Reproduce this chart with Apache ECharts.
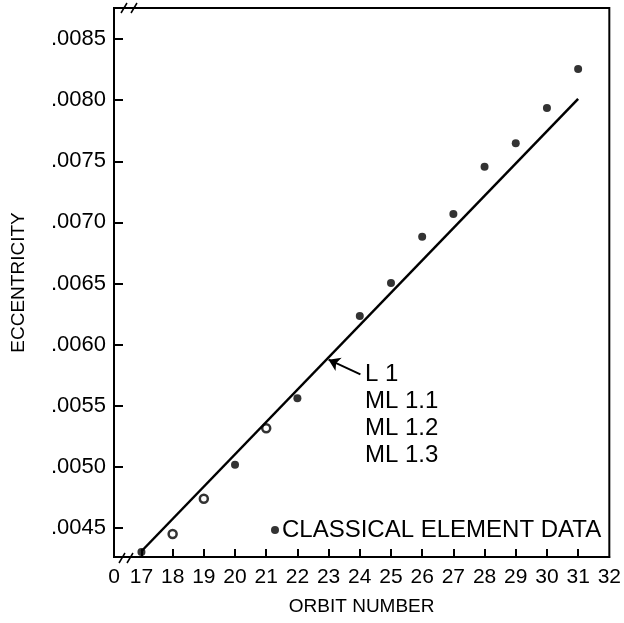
<!DOCTYPE html>
<html><head><meta charset="utf-8">
<script src="https://cdn.jsdelivr.net/npm/echarts@6/dist/echarts.min.js"></script>
<style>html,body{margin:0;padding:0;background:#fff}#c{width:624px;height:623px}</style>
</head><body><div id="c"></div>
<script>
// ---- data ----
const orbits = [17, 18, 19, 20, 21, 22, 24, 25, 26, 27, 28, 29, 30, 31];
const eccentricity = [0.004304, 0.004451, 0.004740, 0.005018, 0.005316, 0.005561, 0.006234, 0.006504, 0.006883, 0.007069, 0.007455, 0.007647, 0.007936, 0.008255];
const hollowOrbits = [18, 19, 21];
const fitLineX = [17.0, 31.0];
const fitLineY = [0.00431, 0.00801];
const xTickValues = [17, 18, 19, 20, 21, 22, 23, 24, 25, 26, 27, 28, 29, 30, 31];
const xLabelValues = [16.12, 17, 18, 19, 20, 21, 22, 23, 24, 25, 26, 27, 28, 29, 30, 31, 32];
const yTickValues = [0.0045, 0.0050, 0.0055, 0.0060, 0.0065, 0.0070, 0.0075, 0.0080, 0.0085];
const annotationLines = ['L 1', 'ML 1.1', 'ML 1.2', 'ML 1.3'];
const arrowFrom = [24.02, 0.005757];
const arrowTo = [23.0, 0.005877];
const seriesName = 'CLASSICAL ELEMENT DATA';
const xName = 'ORBIT NUMBER';
const yName = 'ECCENTRICITY';

// ---- chart ----
const FONT = 'Liberation Sans, Arial, sans-serif';
const chart = echarts.init(document.getElementById('c'), null, {renderer: 'canvas'});
const scatterData = orbits.map((o, i) => {
  const item = {value: [o, eccentricity[i]]};
  if (hollowOrbits.includes(o)) {
    item.itemStyle = {color: '#fff', borderColor: '#000', borderWidth: 2.5};
    item.symbolSize = 8;
  }
  return item;
});
const lineData = fitLineX.map((x, i) => [x, fitLineY[i]]);

chart.setOption({
  animation: false,
  backgroundColor: '#fff',
  grid: {left: 114, top: 8, right: 12, bottom: 66, show: true, borderColor: '#000', borderWidth: 2, backgroundColor: 'transparent'},
  legend: {
    data: [{name: seriesName, icon: 'circle'}],
    left: 266, top: 513, itemWidth: 8, itemHeight: 8, itemGap: 0,
    textStyle: {fontFamily: FONT, fontSize: 24, color: '#000', padding: [0, 0, 0, -2]},
    selectedMode: false
  },
  xAxis: {
    type: 'value', min: 16.12, max: 32,
    name: xName, nameLocation: 'middle', nameGap: 40,
    nameTextStyle: {fontFamily: FONT, fontSize: 19, color: '#000'},
    axisLine: {show: true, lineStyle: {color: '#000', width: 2}},
    axisTick: {show: true, inside: true, length: 8, lineStyle: {color: '#000', width: 2}, customValues: xTickValues},
    axisLabel: {fontFamily: FONT, fontSize: 21, color: '#000', margin: 10, customValues: xLabelValues,
      formatter: v => (v < 17 ? '0' : String(Math.round(v)))},
    splitLine: {show: false}
  },
  yAxis: {
    type: 'value', min: 0.004263, max: 0.008754,
    name: yName, nameLocation: 'middle', nameGap: 86,
    nameTextStyle: {fontFamily: FONT, fontSize: 19, color: '#000'},
    axisLine: {show: true, lineStyle: {color: '#000', width: 2}},
    axisTick: {show: true, inside: true, length: 9, lineStyle: {color: '#000', width: 2}, customValues: yTickValues},
    axisLabel: {fontFamily: FONT, fontSize: 22, color: '#000', margin: 8, customValues: yTickValues,
      formatter: v => v.toFixed(4).replace(/^0/, '')},
    splitLine: {show: false}
  },
  series: [
    {
      name: 'L 1', type: 'line', data: lineData, symbol: 'none',
      lineStyle: {color: '#000', width: 2.5}, silent: true,
      markLine: {
        silent: true, animation: false,
        symbol: ['none', 'arrow'], symbolSize: 11,
        lineStyle: {color: '#000', width: 2, type: 'solid'},
        label: {show: false},
        data: [[{coord: arrowFrom}, {coord: arrowTo}]]
      }
    },
    {
      name: seriesName, type: 'scatter', data: scatterData, symbol: 'circle', symbolSize: 8,
      itemStyle: {color: '#000'}
    }
  ]
});

// annotation text and axis-break marks
chart.setOption({
  graphic: [
    {type: 'text', left: 365, top: 361, style: {text: annotationLines.join('\n'), fontFamily: FONT, fontSize: 24, lineHeight: 27, fill: '#000'}},
    {type: 'line', shape: {x1: 121, y1: 13, x2: 127, y2: 3}, style: {stroke: '#000', lineWidth: 1.5}},
    {type: 'line', shape: {x1: 131, y1: 13, x2: 137, y2: 3}, style: {stroke: '#000', lineWidth: 1.5}},
    {type: 'line', shape: {x1: 119, y1: 563, x2: 125, y2: 553}, style: {stroke: '#000', lineWidth: 1.5}},
    {type: 'line', shape: {x1: 127, y1: 563, x2: 133, y2: 553}, style: {stroke: '#000', lineWidth: 1.5}}
  ]
});
</script>
</body></html>
